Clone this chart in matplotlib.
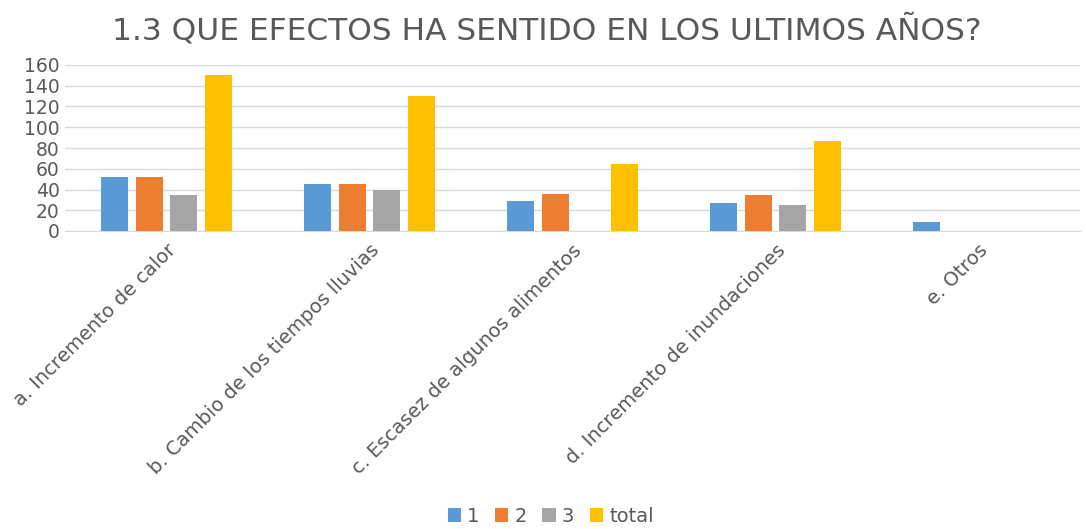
import numpy as np
import matplotlib
matplotlib.use("Agg")
from matplotlib import pyplot as plt

categories = [
    "a. Incremento de calor",
    "b. Cambio de los tiempos lluvias",
    "c. Escasez de algunos alimentos",
    "d. Incremento de inundaciones",
    "e. Otros",
]
series_names = ["1", "2", "3", "total"]
values_1 = [52, 45, 29, 27, 9]
values_2 = [52, 45, 36, 35, 0]
values_3 = [35, 40, 0, 25, 0]
values_total = [150, 130, 65, 87, 0]
y_ticks = [0, 20, 40, 60, 80, 100, 120, 140, 160]

colors = ["#5B9BD5", "#ED7D31", "#A5A5A5", "#FFC000"]
text_color = "#595959"

plt.rcParams["font.family"] = ["DejaVu Sans"]

fig = plt.figure(figsize=(10.86, 5.29), dpi=100)
ax = fig.add_axes([65 / 1086, 1 - 231 / 529, 1015 / 1086, 166 / 529])

x = np.arange(len(categories))
step = 0.17
width = 0.133
all_series = [values_1, values_2, values_3, values_total]
for i, (name, vals, color) in enumerate(zip(series_names, all_series, colors)):
    ax.bar(x + (i - 1.5) * step, vals, width=width, color=color, label=name, zorder=3)

ax.set_xlim(-0.5, len(categories) - 0.5)
ax.set_ylim(0, 160)
ax.set_yticks(y_ticks)
ax.yaxis.grid(True, color="#D9D9D9", linewidth=1.0, zorder=0)
ax.set_axisbelow(True)

for side in ["top", "right", "left"]:
    ax.spines[side].set_visible(False)
ax.spines["bottom"].set_color("#D9D9D9")

ax.set_xticks(x)
ax.set_xticklabels(categories, rotation=45, ha="right", rotation_mode="anchor",
                   fontsize=14, color=text_color)
ax.tick_params(axis="x", length=0, pad=7)
ax.tick_params(axis="y", length=0, labelsize=13.5, labelcolor=text_color, pad=4)

fig.suptitle("1.3 QUE EFECTOS HA SENTIDO EN LOS ULTIMOS AÑOS?", x=0.503, y=0.975,
             fontsize=22.5, color=text_color)

fig.legend(loc="lower center", bbox_to_anchor=(0.507, -0.027), ncol=4, frameon=False,
           fontsize=14, labelcolor=text_color, handlelength=0.7, handleheight=0.7,
           handletextpad=0.3, columnspacing=0.8)

fig.savefig("out.png", dpi=100)
